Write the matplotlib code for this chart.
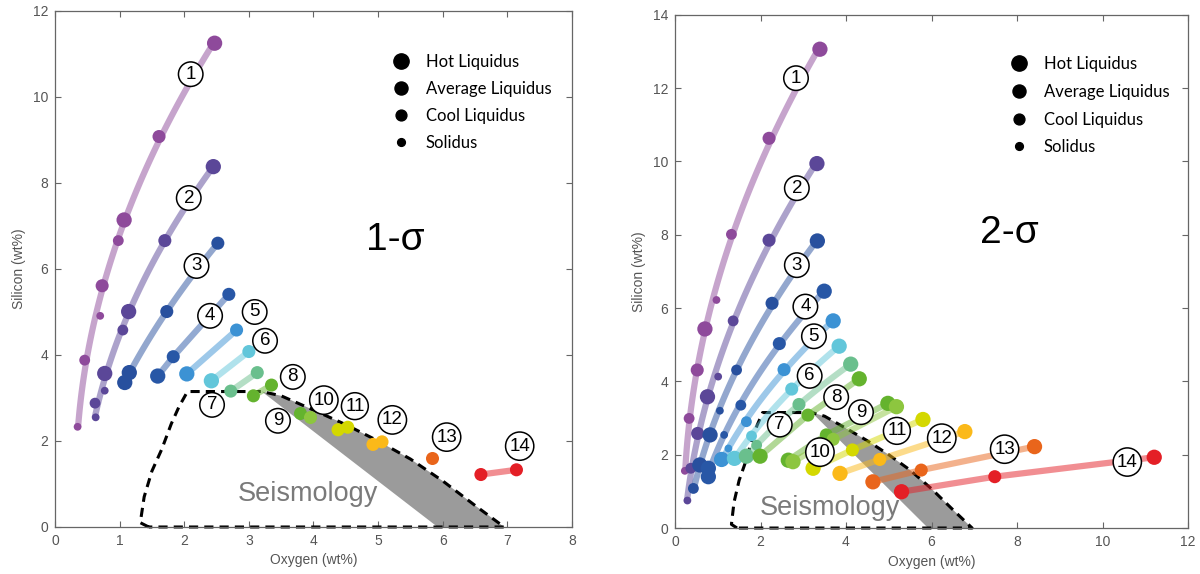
import numpy as np
import matplotlib
matplotlib.use("Agg")
import matplotlib.pyplot as plt
from matplotlib.lines import Line2D

# ---------------- data ----------------
curve_numbers = list(range(1, 15))
marker_colors = ["#8e4a9b", "#5b4798", "#28509e", "#2857a6", "#3c92d4", "#62c6da", "#6abf8d",
                 "#64b32e", "#64b32e", "#8dc63f", "#d4d800", "#fbb919", "#e9651b", "#e41f26"]

# marker size classes: H = hot liquidus, A = average liquidus, C = cool liquidus, S = solidus
size_classes = ["H", "A", "C", "S"]
size_labels = ["Hot Liquidus", "Average Liquidus", "Cool Liquidus", "Solidus"]
size_points = [11.0, 9.4, 7.8, 5.6]

# 1-sigma panel (oxygen, silicon, size class) per curve
left_oxygen = [
    [0.35, 0.46, 0.70, 0.73, 0.98, 1.07, 1.61, 2.47],
    [0.63, 0.62, 0.77, 0.77, 1.05, 1.14, 1.70, 2.45],
    [1.08, 1.15, 1.73, 2.52],
    [1.59, 1.83, 2.69],
    [2.04, 2.81],
    [2.42, 3.00],
    [2.72, 3.13],
    [3.07, 3.35],
    [3.79],
    [3.94],
    [4.38, 4.53],
    [4.92, 5.06],
    [5.83],
    [6.59, 7.14],
]
left_silicon = [
    [2.33, 3.88, 4.91, 5.61, 6.66, 7.14, 9.08, 11.25],
    [2.55, 2.88, 3.17, 3.57, 4.58, 5.01, 6.66, 8.38],
    [3.36, 3.59, 5.01, 6.60],
    [3.51, 3.96, 5.41],
    [3.56, 4.58],
    [3.40, 4.08],
    [3.16, 3.59],
    [3.05, 3.30],
    [2.66],
    [2.55],
    [2.26, 2.32],
    [1.92, 1.98],
    [1.61],
    [1.22, 1.33],
]
left_size = [
    "SCSACHAH", "SCSHCHAH", "HHAA", "HAA", "HA", "HA", "AA",
    "AA", "A", "A", "AA", "AA", "A", "AA",
]
left_label_x = [2.10, 2.07, 2.19, 2.40, 3.09, 3.25, 2.43, 3.68, 3.45, 4.16, 4.64, 5.22, 6.06, 7.19]
left_label_y = [10.53, 7.65, 6.07, 4.91, 5.00, 4.33, 2.84, 3.49, 2.47, 2.95, 2.81, 2.49, 2.09, 1.88]

# 2-sigma panel
right_oxygen = [
    [0.23, 0.33, 0.52, 0.70, 0.97, 1.32, 2.20, 3.39],
    [0.29, 0.37, 0.53, 0.76, 1.01, 1.36, 2.20, 3.32],
    [0.43, 0.58, 0.82, 1.05, 1.44, 2.27, 3.33],
    [0.78, 0.78, 1.15, 1.54, 2.44, 3.49],
    [1.09, 1.25, 1.67, 2.55, 3.70],
    [1.39, 1.79, 2.73, 3.84],
    [1.67, 1.91, 2.90, 4.11],
    [1.99, 3.11, 4.31],
    [2.65, 3.54, 4.98],
    [2.76, 3.70, 5.18],
    [3.23, 4.15, 5.80],
    [3.86, 4.79, 6.78],
    [4.63, 5.76, 8.41],
    [5.30, 7.48, 11.21],
]
right_silicon = [
    [1.56, 2.99, 4.31, 5.43, 6.22, 8.01, 10.63, 13.06],
    [0.75, 1.63, 2.58, 3.58, 4.13, 5.65, 7.85, 9.94],
    [1.08, 1.72, 2.54, 3.20, 4.31, 6.13, 7.83],
    [1.40, 1.63, 2.54, 3.35, 5.03, 6.46],
    [1.87, 2.17, 2.90, 4.32, 5.65],
    [1.90, 2.51, 3.79, 4.96],
    [1.96, 2.26, 3.37, 4.47],
    [1.96, 3.08, 4.07],
    [1.85, 2.54, 3.40],
    [1.81, 2.42, 3.31],
    [1.63, 2.13, 2.96],
    [1.49, 1.87, 2.63],
    [1.26, 1.58, 2.22],
    [0.99, 1.40, 1.93],
]
right_size = [
    "SCAHSCAH", "SCAHSCAH", "CHHSCAH", "HHSCAH", "HSCAH", "HCAH", "HCAH",
    "HAH", "HAH", "HAH", "HAH", "HAH", "HAH", "HAH",
]
right_label_x = [2.83, 2.85, 2.85, 3.05, 3.25, 3.15, 2.45, 3.77, 4.35, 3.39, 5.19, 6.24, 7.71, 10.58]
right_label_y = [12.27, 9.27, 7.17, 6.04, 5.23, 4.15, 2.82, 3.57, 3.16, 2.07, 2.65, 2.45, 2.15, 1.80]

# seismology constraint region
seis_upper_x = [3.20, 3.50, 4.00, 4.50, 5.00, 5.50, 6.00, 6.50, 6.95]
seis_upper_y = [3.15, 3.05, 2.72, 2.38, 2.00, 1.58, 1.07, 0.50, 0.00]
seis_lower_left_x = 5.92
bound_left_x = [1.45, 1.32, 1.38, 1.50, 1.65, 1.80, 1.92, 2.05]
bound_left_y = [0.00, 0.10, 0.70, 1.30, 1.80, 2.40, 2.80, 3.15]

panel_titles = ["1-σ", "2-σ"]

# ---------------- drawing ----------------
plt.rcParams["font.family"] = ["Liberation Sans", "DejaVu Sans"]
fig = plt.figure(figsize=(12, 5.74), dpi=100)
axL = fig.add_axes([0.0458, 0.0819, 0.4309, 0.8990])
axR = fig.add_axes([0.5625, 0.0801, 0.4275, 0.8942])

size_map = dict(zip(size_classes, size_points))


def draw_panel(ax, oxy, sil, sizes, lab_x, lab_y, title, title_xy, seis_xy, xlim, ylim,
               xticks, yticks, leg_anchor, leg_spacing):
    # seismology region
    ax.fill(seis_upper_x + [seis_lower_left_x], seis_upper_y + [0.0],
            color="#9b9b9b", lw=0, zorder=1)
    bx = bound_left_x + seis_upper_x + [bound_left_x[0]]
    by = bound_left_y + seis_upper_y + [0.0]
    ax.plot(bx, by, color="black", lw=2.2, ls=(0, (3, 2)), zorder=2, clip_on=False)
    ax.text(seis_xy[0], seis_xy[1], "Seismology", ha="center", va="center",
            fontsize=19.5, color="#7a7a7a", zorder=2)

    for i in range(len(oxy)):
        x = np.array(oxy[i])
        y = np.array(sil[i])
        col = marker_colors[i]
        if len(x) >= 4:
            coef = np.polyfit(y, x, 2)
            yy = np.linspace(y.min(), y.max(), 120)
            xx = np.polyval(coef, yy)
        else:
            order = np.argsort(x)
            xx, yy = x[order], y[order]
        if len(x) > 1:
            ax.plot(xx, yy, color=col, alpha=0.5, lw=4.5, solid_capstyle="butt", zorder=3)
        ms = np.array([size_map[c] for c in sizes[i]])
        ax.scatter(x, y, s=ms ** 2, color=col, lw=0, zorder=4)
        ax.text(lab_x[i], lab_y[i], str(curve_numbers[i]), ha="center", va="center",
                fontsize=13.5, zorder=5,
                bbox=dict(boxstyle="circle,pad=0.2", fc="white", ec="black", lw=1.1))

    ax.text(title_xy[0], title_xy[1], title, ha="center", va="center", fontsize=28)

    ax.set_xlim(*xlim)
    ax.set_ylim(*ylim)
    ax.set_xticks(xticks)
    ax.set_yticks(yticks)
    ax.tick_params(direction="in", top=True, right=True, length=4, width=0.8,
                   colors="#666666", labelsize=10, labelcolor="#555555", pad=5)
    for sp in ax.spines.values():
        sp.set_color("#666666")
        sp.set_linewidth(0.9)
    ax.set_xlabel("Oxygen (wt%)", fontsize=10, color="#555555", labelpad=4)
    ax.set_ylabel("Silicon (wt%)", fontsize=10, color="#555555", labelpad=5)

    handles = [Line2D([], [], marker="o", ls="", color="black", markersize=s)
               for s in size_points]
    ax.legend(handles, size_labels, loc="upper left", bbox_to_anchor=leg_anchor,
              frameon=False, handlelength=1.0, handletextpad=1.0,
              labelspacing=leg_spacing, borderaxespad=0, borderpad=0,
              prop={"family": ["Lato", "DejaVu Sans"], "size": 12})


draw_panel(axL, left_oxygen, left_silicon, left_size, left_label_x, left_label_y,
           panel_titles[0], (5.26, 6.67), (3.91, 0.77), (0, 8), (0, 12),
           range(0, 9), range(0, 13, 2), (0.6526, 0.917), 0.66)
draw_panel(axR, right_oxygen, right_silicon, right_size, right_label_x, right_label_y,
           panel_titles[1], (7.83, 8.04), (3.62, 0.55), (0, 12), (0, 14),
           range(0, 13, 2), range(0, 15, 2), (0.654, 0.919), 0.70)

fig.savefig("out.png", dpi=100)
